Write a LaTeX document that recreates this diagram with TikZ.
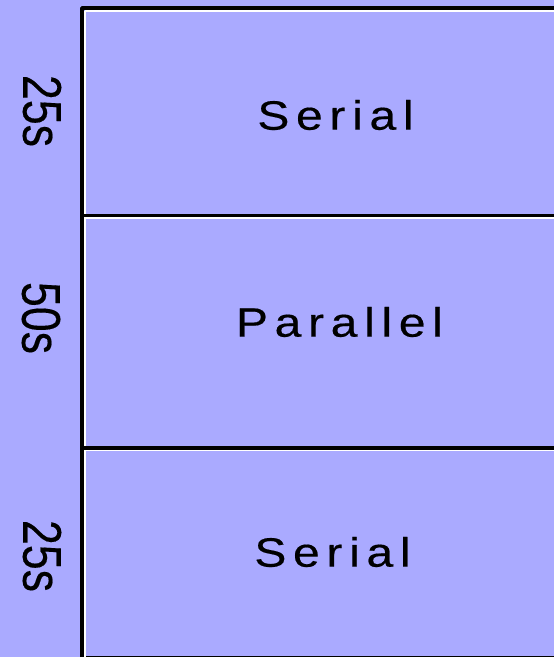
\documentclass[tikz,border=0pt]{standalone}
\usepackage{fontspec}
\setmainfont{Liberation Sans}
\definecolor{bg}{RGB}{170,170,255}
\definecolor{baseline}{RGB}{150,150,150}
\tikzset{
  panel/.style={rectangle, inner sep=0pt, minimum width=520pt, anchor=north west},
  phase/.style={inner sep=0pt, anchor=center, text=black},
  span/.style={inner sep=0pt, anchor=center, rotate=-90, text=black},
  rule/.style={line width=3.4pt, black, line cap=butt},
  glint/.style={line width=1.8pt, white},
}
\newcommand{\phasetext}[1]{\scalebox{1.17}[1]{\fontsize{41}{41}\selectfont\addfontfeature{LetterSpace=14,FakeBold=0.4}#1}}
\newcommand{\spantext}[1]{\scalebox{1}[1.22]{\fontsize{44.7}{44.7}\selectfont\addfontfeature{FakeBold=0.3}#1}}
\begin{document}
\begin{tikzpicture}[x=1pt,y=-1pt]
  \fill[bg] (0,0) rectangle (554,657);
  \useasboundingbox (0,0) rectangle (554,657);

  % three stacked phases
  \node[panel, minimum height=207pt] (p1) at (82,8) {};
  \node[panel, minimum height=232pt] (p2) at (p1.south west) {};
  \node[panel, minimum height=209pt] (p3) at (p2.south west) {};

  % light edges along the inner side of each rule
  \draw[glint] ([xshift=2.9pt,yshift=-2.6pt]p1.north west) -- ([xshift=2.9pt]p3.south west);
  \draw[glint] ([xshift=2.9pt,yshift=-2.7pt]p1.north west) -- ([yshift=-2.7pt]p1.north east);
  \draw[glint] ([xshift=2.9pt,yshift=-2.7pt]p1.south west) -- ([yshift=-2.7pt]p1.south east);
  \draw[glint] ([xshift=2.9pt,yshift=-2.7pt]p2.south west) -- ([yshift=-2.7pt]p2.south east);

  % frame and separators
  \draw[rule, line join=round] (p3.south west) -- (p1.north west) -- (p1.north east);
  \draw[rule] (p1.south west) -- (p1.south east);
  \draw[rule] (p2.south west) -- (p2.south east);
  \draw[baseline, line width=1.6pt] ([xshift=4pt]p3.south west) -- (p3.south east);

  % phase names
  \node[phase] (t1) at (335.5,115) {\phasetext{Serial}};
  \node[phase] (t2) at (339.5,322) {\phasetext{Parallel}};
  \node[phase] (t3) at (332.5,552) {\phasetext{Serial}};

  % durations
  \node[span] (d1) at (42,111) {\spantext{25s}};
  \node[span] (d2) at (41,318) {\spantext{50s}};
  \node[span] (d3) at (42,556) {\spantext{25s}};
\end{tikzpicture}
\end{document}
